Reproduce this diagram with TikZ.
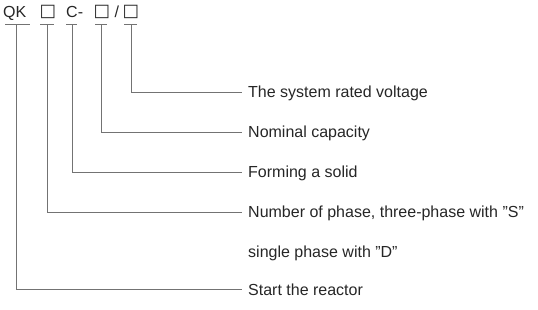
\documentclass[tikz,border=0pt]{standalone}
\usepackage{fontspec}
\setmainfont{Liberation Sans}
\newfontfamily\symfont{DejaVu Sans}
\begin{document}
\begin{tikzpicture}[x=1pt,y=-1pt,
  txt/.style={inner sep=0pt,text=black!85,font=\fontsize{16}{19}\selectfont},
  head/.style={txt,anchor=base west},
  boxch/.style={txt,anchor=base west,font=\symfont\fontsize{17.5}{19}\selectfont},
  lab/.style={txt,anchor=west,inner xsep=6pt,text height=12pt,text depth=1pt},
  ln/.style={draw=black!55,line width=0.8pt}]
\useasboundingbox (0,0) rectangle (538,310);
% header
\node[head] (h1) at (3,18) {QK};
\node[boxch] (h2) at (39.5,16.5) {□};
\node[head] (h3) at (66,18) {C-};
\node[boxch] (h4) at (93.5,16.5) {□};
\node[head] (h5) at (114.5,18) {/};
\node[boxch] (h6) at (122.5,16.5) {□};
% underlines
\coordinate (u1) at (16,24.5);
\coordinate (u2) at (47,24.5);
\coordinate (u3) at (72,24.5);
\coordinate (u4) at (101,24.5);
\coordinate (u5) at (131,24.5);
\draw[ln] (5,24.5) -- (30,24.5);
\draw[ln] (40,24.5) -- (54,24.5);
\draw[ln] (66,24.5) -- (77,24.5);
\draw[ln] (95,24.5) -- (107,24.5);
\draw[ln] (124,24.5) -- (137,24.5);
% labels
\node[lab] (l1) at (242,92) {The system rated voltage};
\node[lab] (l2) at (242,132.5) {Nominal capacity};
\node[lab] (l3) at (242,172.3) {Forming a solid};
\node[lab] (l4) at (242,212) {Number of phase, three-phase with \symbol{34}S\symbol{34}};
\node[lab] (l5) at (242,252) {single phase with \symbol{34}D\symbol{34}};
\node[lab] (l6) at (242,289.5) {Start the reactor};
% connectors
\draw[ln] (u5) |- (l1.west);
\draw[ln] (u4) |- (l2.west);
\draw[ln] (u3) |- (l3.west);
\draw[ln] (u2) |- (l4.west);
\draw[ln] (u1) |- (l6.west);
\end{tikzpicture}
\end{document}
